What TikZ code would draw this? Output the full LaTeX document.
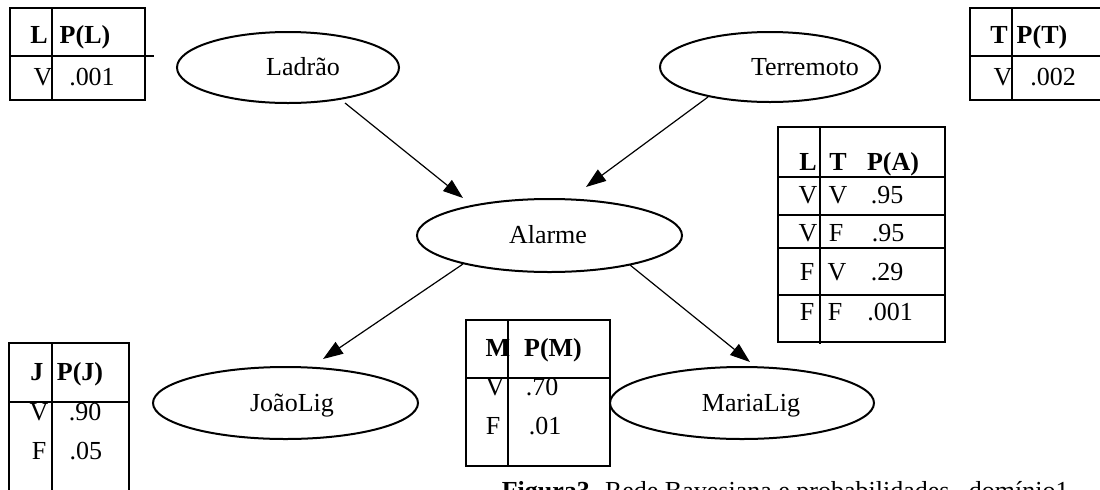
\documentclass[tikz,border=0pt]{standalone}
\usepackage{fontspec}
\setmainfont{Liberation Serif}
\usetikzlibrary{arrows.meta,shapes.geometric}
\begin{document}
\begin{tikzpicture}[x=0.5pt,y=-0.5pt,
  font=\fontsize{13}{15}\selectfont,
  ell/.style={draw, ellipse, line width=1pt, inner sep=0pt},
  txt/.style={anchor=base, inner sep=0pt},
  hdr/.style={anchor=base, inner sep=0pt, font=\fontsize{13}{15}\selectfont\bfseries},
  tbl/.style={line width=1pt},
  arr/.style={line width=0.6pt, -{Triangle[length=10pt,width=7pt]}}]
\useasboundingbox (0,0) rectangle (1100,489);
\clip (0,0) rectangle (1100,489);

% ellipses
\node[ell, minimum width=111pt, minimum height=35.5pt] (lad) at (288,67.5) {};
\node[ell, minimum width=110pt, minimum height=35pt] (ter) at (770,67) {};
\node[ell, minimum width=132.5pt, minimum height=36.5pt] (alm) at (549.5,235.5) {};
\node[ell, minimum width=132.5pt, minimum height=36pt] (joa) at (285.5,403) {};
\node[ell, minimum width=132pt, minimum height=36pt] (mar) at (742,403) {};

\node[txt] (tlad) at (303,75) {Ladrão};
\node[txt] (tter) at (805,75) {Terremoto};
\node[txt] (talm) at (548,243) {Alarme};
\node[txt] (tjoa) at (292,411) {JoãoLig};
\node[txt] (tmar) at (751,411) {MariaLig};

% arrows
\coordinate (a1s) at (345,103); \coordinate (a1e) at (463,198);
\coordinate (a2s) at (708,97);  \coordinate (a2e) at (586,187);
\coordinate (a3s) at (463,264); \coordinate (a3e) at (323,359);
\coordinate (a4s) at (630,265); \coordinate (a4e) at (750,362);
\draw[arr] (a1s) -- (a1e);
\draw[arr] (a2s) -- (a2e);
\draw[arr] (a3s) -- (a3e);
\draw[arr] (a4s) -- (a4e);

% table L
\draw[tbl] (10,8) rectangle (145,100);
\draw[tbl] (52,8) -- (52,100);
\draw[tbl] (10,56) -- (154,56);
\node[hdr] (lL) at (39,43) {L};
\node[hdr] (lP) at (85,43) {P(L)};
\node[txt] (lV) at (43,85) {V};
\node[txt] (lv) at (92,85) {.001};

% table T
\draw[tbl] (970,8) rectangle (1110,100);
\draw[tbl] (1012,8) -- (1012,100);
\draw[tbl] (970,56) -- (1110,56);
\node[hdr] (tT) at (999,43) {T};
\node[hdr] (tP) at (1042,43) {P(T)};
\node[txt] (tV) at (1003,85) {V};
\node[txt] (tv) at (1053,85) {.002};

% table A
\draw[tbl] (778,127) rectangle (945,342);
\draw[tbl] (820,127) -- (820,344);
\foreach \yy in {177,215,248,295} \draw[tbl] (778,\yy) -- (945,\yy);
\node[hdr] (aL) at (808,170) {L};
\node[hdr] (aT) at (838,170) {T};
\node[hdr] (aP) at (893,170) {P(A)};
\node[txt] (a11) at (808,203) {V};
\node[txt] (a12) at (838,203) {V};
\node[txt] (a13) at (887,203) {.95};
\node[txt] (a21) at (808,241) {V};
\node[txt] (a22) at (836,241) {F};
\node[txt] (a23) at (888,241) {.95};
\node[txt] (a31) at (807,280) {F};
\node[txt] (a32) at (837,280) {V};
\node[txt] (a33) at (887,280) {.29};
\node[txt] (a41) at (807,320) {F};
\node[txt] (a42) at (835,320) {F};
\node[txt] (a43) at (890,320) {.001};

% table J
\draw[tbl] (9,500) -- (9,343) -- (129,343) -- (129,500);
\draw[tbl] (52,343) -- (52,500);
\draw[tbl] (9,402) -- (129,402);
\node[hdr] (jJ) at (37,380) {J};
\node[hdr] (jP) at (80,380) {P(J)};
\node[txt] (jV) at (39,420) {V};
\node[txt] (jv) at (85,420) {.90};
\node[txt] (jF) at (39,459) {F};
\node[txt] (jf) at (86,459) {.05};

% table M
\draw[tbl] (466,320) rectangle (610,466);
\draw[tbl] (508,320) -- (508,466);
\draw[tbl] (466,378) -- (610,378);
\node[hdr] (mM) at (498,356) {M};
\node[hdr] (mP) at (553,356) {P(M)};
\node[txt] (mV) at (495,395) {V};
\node[txt] (mv) at (542,395) {.70};
\node[txt] (mF) at (493,434) {F};
\node[txt] (mf) at (545,434) {.01};

% caption
\node[anchor=base east, inner sep=0pt] (cap) at (1069,499)
  {\textbf{Figura3.} Rede Bayesiana e probabilidades,\ \ domínio1};
\end{tikzpicture}
\end{document}
